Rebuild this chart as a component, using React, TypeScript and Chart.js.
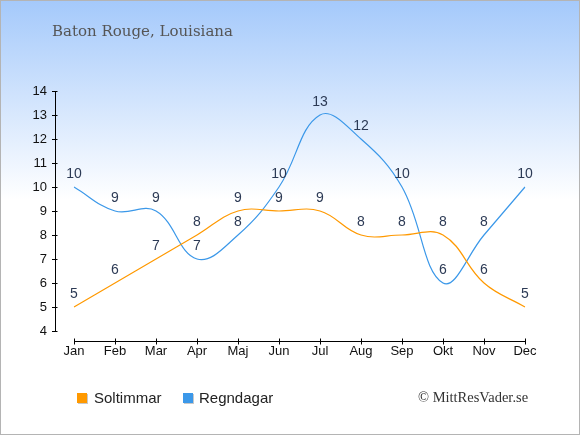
import React, { useEffect, useRef } from "react";
import { Chart, registerables } from "chart.js";

Chart.register(...registerables);

const months = ["Jan", "Feb", "Mar", "Apr", "Maj", "Jun", "Jul", "Aug", "Sep", "Okt", "Nov", "Dec"];
const soltimmar = [5, 6, 7, 8, 9, 9, 9, 8, 8, 8, 6, 5];
const regndagar = [10, 9, 9, 7, 8, 10, 13, 12, 10, 6, 8, 10];
const yMin = 4;
const yMax = 14;

const titleText = "Baton Rouge, Louisiana";
const seriesNames = ["Soltimmar", "Regndagar"];
const seriesColors = ["#ff9900", "#3b98e9"];
const watermark = "© MittResVader.se";

const axesPlugin = {
  id: "customAxes",
  afterDraw(chart: any) {
    const ctx = chart.ctx;
    const x = chart.scales.x;
    const y = chart.scales.y;
    const area = chart.chartArea;
    ctx.save();
    ctx.strokeStyle = "#000";
    ctx.lineWidth = 1;
    const ax = Math.round(area.left - 19) + 0.5;
    const top = Math.round(y.getPixelForValue(yMax));
    const bottom = Math.round(y.getPixelForValue(yMin));
    ctx.beginPath();
    ctx.moveTo(ax, top);
    ctx.lineTo(ax, bottom + 1);
    for (let v = yMin; v <= yMax; v++) {
      const py = Math.round(y.getPixelForValue(v)) + 0.5;
      ctx.moveTo(ax - 3.5, py);
      ctx.lineTo(ax + 2, py);
    }
    const ay = Math.round(area.bottom + 10) + 0.5;
    const x0 = Math.round(x.getPixelForValue(0));
    const x1 = Math.round(x.getPixelForValue(months.length - 1));
    ctx.moveTo(x0, ay);
    ctx.lineTo(x1 + 1, ay);
    for (let i = 0; i < months.length; i++) {
      const px = Math.round(x.getPixelForValue(i)) + 0.5;
      ctx.moveTo(px, ay - 3);
      ctx.lineTo(px, ay + 3);
    }
    ctx.stroke();
    ctx.restore();
  },
};

const labelsPlugin = {
  id: "valueLabels",
  afterDatasetsDraw(chart: any) {
    const ctx = chart.ctx;
    ctx.save();
    ctx.font = "14px Arial, 'Liberation Sans', sans-serif";
    ctx.fillStyle = "#2c3a55";
    ctx.textAlign = "center";
    ctx.textBaseline = "middle";
    chart.data.datasets.forEach((ds: any, di: number) => {
      const meta = chart.getDatasetMeta(di);
      meta.data.forEach((pt: any, i: number) => {
        ctx.fillText(String(ds.data[i]), pt.x, pt.y - 13);
      });
    });
    ctx.restore();
  },
};

export default function App() {
  const canvasRef = useRef<HTMLCanvasElement | null>(null);

  useEffect(() => {
    if (!canvasRef.current) return;
    const chart = new Chart(canvasRef.current, {
      type: "line",
      data: {
        labels: months,
        datasets: [
          {
            label: seriesNames[0],
            data: soltimmar,
            borderColor: seriesColors[0],
            backgroundColor: seriesColors[0],
            borderWidth: 1.2,
            pointRadius: 0,
            tension: 0.4,
            fill: false,
          },
          {
            label: seriesNames[1],
            data: regndagar,
            borderColor: seriesColors[1],
            backgroundColor: seriesColors[1],
            borderWidth: 1.2,
            pointRadius: 0,
            tension: 0.4,
            fill: false,
          },
        ],
      },
      options: {
        animation: false,
        responsive: false,
        devicePixelRatio: 1,
        layout: { padding: { top: 91, right: 55, bottom: 0, left: 0 } },
        plugins: {
          legend: { display: false },
          title: { display: false },
          tooltip: { enabled: false },
        },
        scales: {
          x: {
            type: "category",
            offset: false,
            grid: { display: false, drawTicks: false },
            border: { display: false },
            ticks: {
              color: "#111",
              padding: 13,
              font: { family: "Arial, 'Liberation Sans', sans-serif", size: 13 },
              maxRotation: 0,
              autoSkip: false,
            },
            afterFit(scale: any) {
              scale.height = 104;
            },
          },
          y: {
            min: yMin,
            max: yMax,
            grid: { display: false, drawTicks: false },
            border: { display: false },
            ticks: {
              stepSize: 1,
              color: "#111",
              padding: 27,
              font: { family: "Arial, 'Liberation Sans', sans-serif", size: 13 },
            },
            afterFit(scale: any) {
              scale.width = 74;
            },
          },
        },
      },
      plugins: [axesPlugin, labelsPlugin],
    });
    return () => chart.destroy();
  }, []);

  const sq = (color: string, left: number) => (
    <div style={{ position: "absolute", left, top: 393 }}>
      <div style={{ position: "absolute", left: 1, top: 1, width: 10, height: 10, background: "#c8c8c8" }} />
      <div style={{ position: "absolute", left: 0, top: 0, width: 10, height: 10, background: color }} />
    </div>
  );

  return (
    <div
      style={{
        position: "absolute",
        left: 0,
        top: 0,
        width: 580,
        height: 435,
        background: "linear-gradient(to bottom, #a4c9fb 0px, #ffffff 200px, #ffffff 435px)",
        overflow: "hidden",
      }}
    >
      <canvas ref={canvasRef} width={580} height={435} style={{ position: "absolute", left: 0, top: 0 }} />
      <div
        style={{
          position: "absolute",
          left: 52,
          top: 21,
          font: "15px 'DejaVu Serif', serif",
          color: "#555",
          whiteSpace: "nowrap",
          lineHeight: "20px",
        }}
      >
        {titleText}
      </div>
      {sq(seriesColors[0], 77)}
      <div
        style={{
          position: "absolute",
          left: 94,
          top: 388,
          font: "15px Arial, 'Liberation Sans', sans-serif",
          color: "#222",
          lineHeight: "20px",
        }}
      >
        {seriesNames[0]}
      </div>
      {sq(seriesColors[1], 183)}
      <div
        style={{
          position: "absolute",
          left: 199,
          top: 388,
          font: "15px Arial, 'Liberation Sans', sans-serif",
          color: "#222",
          lineHeight: "20px",
        }}
      >
        {seriesNames[1]}
      </div>
      <div
        style={{
          position: "absolute",
          left: 418,
          top: 387,
          font: "14.5px 'Liberation Serif', serif",
          color: "#333",
          lineHeight: "20px",
          whiteSpace: "nowrap",
        }}
      >
        {watermark}
      </div>
      <div
        style={{
          position: "absolute",
          left: 0,
          top: 0,
          width: 580,
          height: 435,
          boxSizing: "border-box",
          border: "1px solid #b4b4b4",
          pointerEvents: "none",
        }}
      />
    </div>
  );
}
